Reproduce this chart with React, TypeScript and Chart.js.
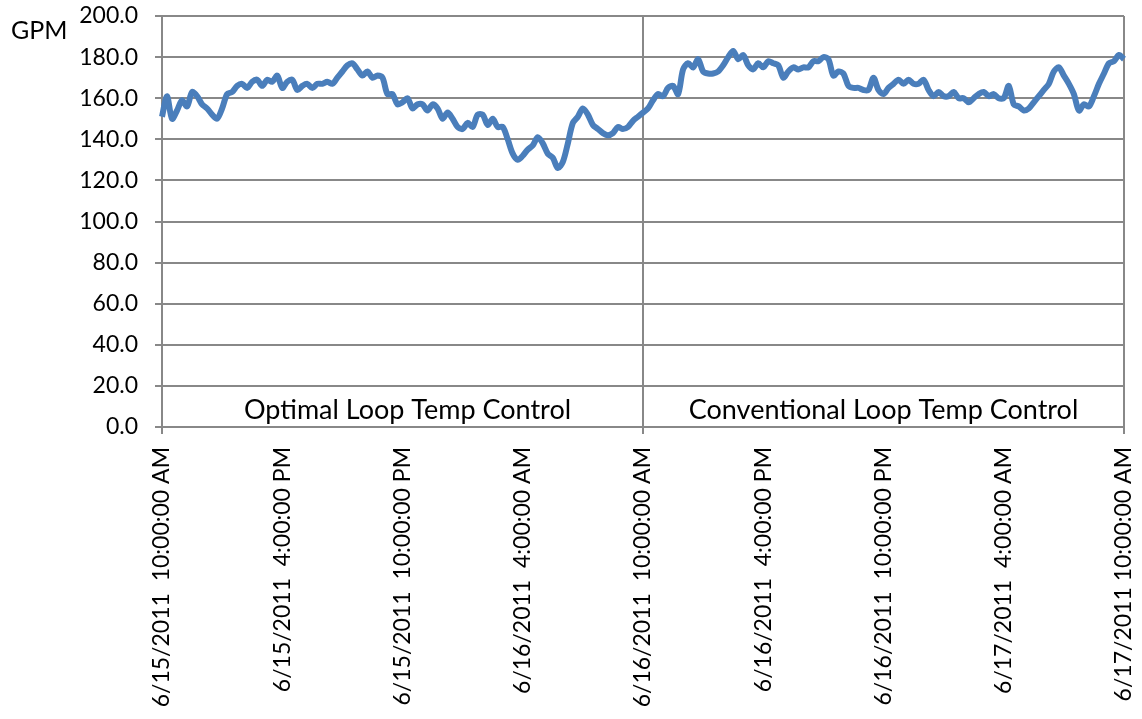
import React, { useEffect, useRef } from "react";
import { Chart, registerables } from "chart.js";

Chart.register(...registerables);

// Flow (GPM), one reading every 15 minutes, 6/15/2011 10:00 AM -> 6/17/2011 10:00 AM
const flowOptimal1: number[] = [151,161,150,154,159,156,163,161,157,155,152,150,155,162,163,166,167,165,168,169,166,169,168,171];
const flowOptimal2: number[] = [165,168,169,164,166,167,165,167,167,168,167,170,173,176,177,174,171,173,170,171,170,162,162,157];
const flowOptimal3: number[] = [158,160,155,157,157,154,157,155,150,153,150,146,145,148,146,152,152,147,150,146,146,140,133,130];
const flowOptimal4: number[] = [132,135,137,141,138,133,131,126,129,138,148,151,155,152,147,145,143,142,143,146,145,146,149,151];
const flowConventional1: number[] = [153,155,159,162,161,165,166,162,174,177,175,179,173,172,172,173,176,180,183,179,181,176,174,177];
const flowConventional2: number[] = [175,178,177,176,170,173,175,174,175,175,178,178,180,179,171,173,172,166,165,165,164,164,170,164];
const flowConventional3: number[] = [162,165,167,169,167,169,167,167,169,164,161,163,161,161,163,160,160,158,160,162,163,161,162,160];
const flowConventional4: number[] = [160,166,157,156,154,155,158,161,164,167,173,175,171,167,162,154,157,156,161,167,172,177,178,181];
const flowFinal: number[] = [179];

const tickLabels: string[] = [
  "6/15/2011  10:00:00 AM",
  "6/15/2011  4:00:00 PM",
  "6/15/2011  10:00:00 PM",
  "6/16/2011  4:00:00 AM",
  "6/16/2011  10:00:00 AM",
  "6/16/2011  4:00:00 PM",
  "6/16/2011  10:00:00 PM",
  "6/17/2011  4:00:00 AM",
  "6/17/2011 10:00:00 AM",
];

const sectionLabels: string[] = ["Optimal Loop Temp Control", "Conventional Loop Temp Control"];
const yTitle = "GPM";

const flow: number[] = [
  ...flowOptimal1, ...flowOptimal2, ...flowOptimal3, ...flowOptimal4,
  ...flowConventional1, ...flowConventional2, ...flowConventional3, ...flowConventional4,
  ...flowFinal,
];
const pointsPerLabel = 24;
const categories: string[] = flow.map((_, i) =>
  i % pointsPerLabel === 0 ? tickLabels[i / pointsPerLabel] : ""
);

const GRID = "#888888";
const FONT = "Lato";

export default function App() {
  const ref = useRef<HTMLCanvasElement | null>(null);

  useEffect(() => {
    if (!ref.current) return;
    const textPlugin = {
      id: "texts",
      afterDraw(chart: any) {
        const ctx = chart.ctx;
        const xs = chart.scales.x;
        const ys = chart.scales.y;
        ctx.save();
        ctx.fillStyle = "#000";
        ctx.font = `25px ${FONT}`;
        ctx.textAlign = "left";
        ctx.textBaseline = "alphabetic";
        ctx.fillText(yTitle, 11, 39);
        ctx.font = `27px ${FONT}`;
        ctx.textAlign = "center";
        const yText = ys.getPixelForValue(0) - 8;
        ctx.fillText(sectionLabels[0], xs.getPixelForValue(49), yText);
        ctx.fillText(sectionLabels[1], xs.getPixelForValue(144), yText);
        ctx.restore();
      },
    };

    const chart = new Chart(ref.current, {
      type: "line",
      data: {
        labels: categories,
        datasets: [
          {
            data: flow,
            borderColor: "#4A7EBB",
            borderWidth: 6,
            pointRadius: 0,
            tension: 0.3,
            fill: false,
          },
        ],
      },
      options: {
        responsive: false,
        animation: false,
        layout: { padding: { top: 16, right: 18, left: 0, bottom: 0 } },
        plugins: { legend: { display: false }, tooltip: { enabled: false } },
        scales: {
          x: {
            offset: false,
            afterFit(scale: any) {
              scale.height = 292;
              scale.paddingLeft = 0;
              scale.paddingRight = 0;
            },
            border: { display: true, color: GRID, width: 2 },
            grid: {
              color: (c: any) =>
                c.tick && c.tick.value % 96 === 0 ? GRID : "rgba(0,0,0,0)",
              lineWidth: 2,
              tickLength: 7,
              drawOnChartArea: true,
            },
            ticks: {
              autoSkip: false,
              minRotation: 90,
              maxRotation: 90,
              padding: 13,
              color: "#000",
              font: { family: FONT, size: 23 },
              callback: (_v: any, i: number) =>
                i % pointsPerLabel === 0 ? tickLabels[i / pointsPerLabel] : null,
            },
          },
          y: {
            min: 0,
            max: 200,
            afterFit(scale: any) {
              scale.width = 162;
              scale.paddingTop = 0;
              scale.paddingBottom = 0;
            },
            border: { display: true, color: GRID, width: 2 },
            grid: { color: GRID, lineWidth: 2, tickLength: 7 },
            ticks: {
              stepSize: 20,
              padding: 17,
              color: "#000",
              font: { family: FONT, size: 23 },
              callback: (v: any) => Number(v).toFixed(1),
            },
          },
        },
      },
      plugins: [textPlugin],
    });
    return () => chart.destroy();
  }, []);

  return (
    <div style={{ position: "absolute", left: 0, top: 0, width: 1142, height: 719, background: "#fff" }}>
      <canvas ref={ref} width={1142} height={719} style={{ display: "block" }} />
    </div>
  );
}
